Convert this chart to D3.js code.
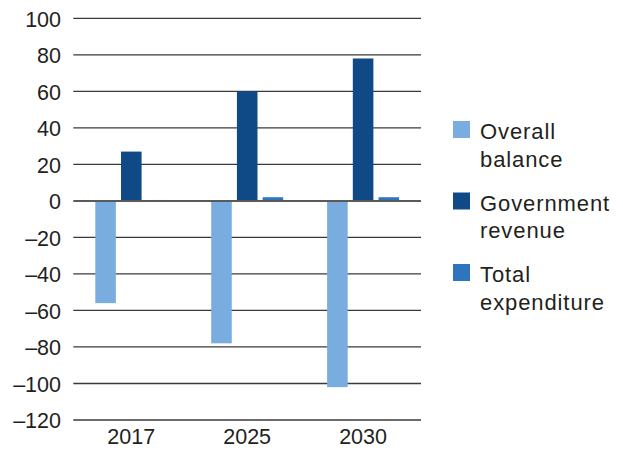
<!DOCTYPE html>
<html>
<head>
<meta charset="utf-8">
<script src="https://cdn.jsdelivr.net/npm/d3@7"></script>
<style>
  body { margin: 0; background: #fff; }
  svg { display: block; }
  text { font-family: "Liberation Sans", Arial, sans-serif; fill: #231f20; }
</style>
</head>
<body>
<div id="chart"></div>
<script>
// data
const years = ["2017", "2025", "2030"];
const series = ["Overall balance", "Government revenue", "Total expenditure"];
const overallBalance = [-56, -78, -102];
const governmentRevenue = [27, 60, 78];
const totalExpenditure = [0.5, 2, 2];
const yTicks = [100, 80, 60, 40, 20, 0, -20, -40, -60, -80, -100, -120];
const colors = ["#7aaddf", "#0f4a87", "#2e75bd"];

const values = [overallBalance, governmentRevenue, totalExpenditure];
const rows = years.map((yr, i) => ({
  year: yr,
  bars: series.map((s, j) => ({ key: s, value: values[j][i], color: colors[j] }))
}));

const W = 623, H = 458;
const plot = { left: 73.3, right: 421, top: 18.3, bottom: 420 };

const svg = d3.select("#chart").append("svg")
  .attr("width", W)
  .attr("height", H);

// scales
const y = d3.scaleLinear()
  .domain([-120, 100])
  .range([plot.bottom, plot.top]);

const x0 = d3.scaleBand()
  .domain(years)
  .range([plot.left, plot.right])
  .padding(0);

const x1 = d3.scaleBand()
  .domain(series)
  .range([22, 94])
  .paddingInner(0.2);

// gridlines
svg.append("g")
  .selectAll("line")
  .data(yTicks.filter(d => d !== 0))
  .enter().append("line")
    .attr("x1", plot.left)
    .attr("x2", plot.right)
    .attr("y1", d => y(d))
    .attr("y2", d => y(d))
    .style("stroke", "#3a3a3a")
    .style("stroke-width", 1.3);

// y axis labels
const yAxis = d3.axisLeft(y).tickValues(yTicks).tickSize(0).tickPadding(0)
  .tickFormat(d => d < 0 ? "\u2013" + Math.abs(d) : d);
svg.append("g")
  .attr("transform", "translate(61,0)")
  .call(yAxis)
  .call(g => g.select(".domain").remove())
  .selectAll("text")
    .style("font-size", "21.5px")
    .style("font-family", "'Liberation Sans', Arial, sans-serif")
    .style("fill", "#231f20")
    .attr("dy", "0.36em");

// bars
const groups = svg.append("g")
  .selectAll("g")
  .data(rows)
  .enter().append("g")
    .attr("transform", d => "translate(" + x0(d.year) + ",0)");

groups.selectAll("rect")
  .data(d => d.bars)
  .enter().append("rect")
    .attr("x", d => x1(d.key))
    .attr("width", x1.bandwidth())
    .attr("y", d => y(Math.max(0, d.value)))
    .attr("height", d => Math.abs(y(d.value) - y(0)))
    .attr("fill", d => d.color);

// zero line
svg.append("line")
  .attr("x1", plot.left)
  .attr("x2", plot.right)
  .attr("y1", y(0))
  .attr("y2", y(0))
  .style("stroke", "#5a5a5a")
  .style("stroke-width", 2);

// x axis labels
const xAxis = d3.axisBottom(x0).tickSize(0).tickPadding(0);
svg.append("g")
  .attr("transform", "translate(0,436)")
  .call(xAxis)
  .call(g => g.select(".domain").remove())
  .selectAll("text")
    .style("font-size", "21.5px")
    .style("font-family", "'Liberation Sans', Arial, sans-serif")
    .style("fill", "#231f20")
    .attr("dy", "0.36em")
    .attr("y", 0);

// legend
const legendLines = [["Overall", "balance"], ["Government", "revenue"], ["Total", "expenditure"]];
const legend = svg.append("g")
  .selectAll("g")
  .data(series)
  .enter().append("g")
    .attr("transform", (d, i) => "translate(453," + (121 + i * 71.5) + ")");

legend.append("rect")
  .attr("width", 17)
  .attr("height", 17)
  .attr("fill", (d, i) => colors[i]);

legend.each(function(d, i) {
  const t = d3.select(this).append("text")
    .attr("x", 27)
    .attr("y", 18)
    .style("font-size", "22px")
    .style("letter-spacing", "0.9px");
  legendLines[i].forEach((ln, k) => {
    t.append("tspan").attr("x", 27).attr("dy", k === 0 ? 0 : 27.5).text(ln);
  });
});
</script>
</body>
</html>
